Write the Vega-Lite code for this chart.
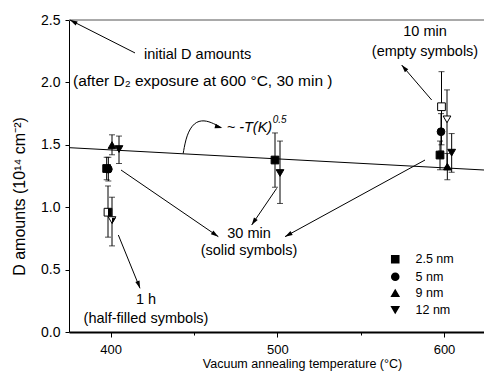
{
  "$schema": "https://vega.github.io/schema/vega-lite/v6.json",
  "width": 415,
  "height": 312,
  "autosize": {"type": "none"},
  "padding": {"left": 69, "top": 20, "right": 0, "bottom": 47},
  "background": "white",
  "config": {
    "view": {"stroke": null},
    "font": "Liberation Sans",
    "axis": {"domainColor": "black", "tickColor": "black", "labelColor": "black", "titleColor": "black", "grid": false, "labelFont": "Liberation Sans", "titleFont": "Liberation Sans", "titleFontWeight": "normal"}
  },
  "datasets": {
    "pts": [
      {"T": 397.6, "D": 1.31, "lo": 1.22, "hi": 1.4, "film": "2.5 nm", "time": "30 min"},
      {"T": 398.6, "D": 1.305, "lo": 1.21, "hi": 1.4, "film": "5 nm", "time": "30 min"},
      {"T": 400.8, "D": 1.498, "lo": 1.42, "hi": 1.58, "film": "9 nm", "time": "30 min"},
      {"T": 405, "D": 1.466, "lo": 1.35, "hi": 1.57, "film": "12 nm", "time": "30 min"},
      {"T": 398.4, "D": 0.96, "lo": 0.76, "hi": 1.17, "film": "2.5 nm", "time": "1 h"},
      {"T": 400.8, "D": 0.897, "lo": 0.69, "hi": 1.08, "film": "12 nm", "time": "1 h"},
      {"T": 498.6, "D": 1.378, "lo": 1.16, "hi": 1.595, "film": "2.5 nm", "time": "30 min"},
      {"T": 501.6, "D": 1.274, "lo": 1.03, "hi": 1.53, "film": "12 nm", "time": "30 min"},
      {"T": 598.5, "D": 1.805, "lo": 1.5, "hi": 2.086, "film": "2.5 nm", "time": "10 min"},
      {"T": 601.8, "D": 1.704, "lo": 1.32, "hi": 1.94, "film": "12 nm", "time": "10 min"},
      {"T": 598.2, "D": 1.605, "lo": 1.45, "hi": 1.75, "film": "5 nm", "time": "30 min"},
      {"T": 597.6, "D": 1.418, "lo": 1.3, "hi": 1.53, "film": "2.5 nm", "time": "30 min"},
      {"T": 602, "D": 1.325, "lo": 1.22, "hi": 1.43, "film": "9 nm", "time": "30 min"},
      {"T": 604.6, "D": 1.437, "lo": 1.28, "hi": 1.59, "film": "12 nm", "time": "30 min"}
    ],
    "trend": [
      {"T": 375, "D": 1.477},
      {"T": 624, "D": 1.298}
    ],
    "arrows": [
      {"id": "a1", "T1": 414.6, "D1": 2.236, "T2": 375.6, "D2": 2.5},
      {"id": "a2", "T1": 592.6, "D1": 1.859, "T2": 574.6, "D2": 2.139},
      {"id": "a3", "T1": 406.2, "D1": 1.298, "T2": 464.6, "D2": 0.764},
      {"id": "a4", "T1": 499.6, "D1": 1.151, "T2": 484.6, "D2": 0.857},
      {"id": "a5", "T1": 588.6, "D1": 1.378, "T2": 504.6, "D2": 0.764},
      {"id": "a6", "T1": 404.6, "D1": 0.777, "T2": 417.6, "D2": 0.35}
    ],
    "curve": [
      {"T": 443.5, "D": 1.43},
      {"T": 445.5, "D": 1.58},
      {"T": 450, "D": 1.68},
      {"T": 456, "D": 1.7},
      {"T": 462, "D": 1.67},
      {"T": 466, "D": 1.64}
    ],
    "labels": [
      {"T": 420, "D": 2.22, "text": "initial D amounts", "al": "left"},
      {"T": 588.6, "D": 2.4, "text": "10 min", "al": "center"},
      {"T": 588.6, "D": 2.244, "text": "(empty symbols)", "al": "center"},
      {"T": 483, "D": 0.785, "text": "30 min", "al": "center"},
      {"T": 483, "D": 0.649, "text": "(solid symbols)", "al": "center"},
      {"T": 421.2, "D": 0.255, "text": "1 h", "al": "center"},
      {"T": 421.2, "D": 0.105, "text": "(half-filled symbols)", "al": "center"}
    ]
  },
  "layer": [
    {
      "data": {"values": [{}]},
      "mark": {"type": "rule", "color": "#555", "strokeWidth": 1},
      "encoding": {"y": {"datum": 2.5, "type": "quantitative", "scale": {"domain": [0, 2.5], "nice": false}}}
    },
    {
      "data": {"name": "trend"},
      "mark": {"type": "line", "color": "black", "strokeWidth": 1},
      "encoding": {
        "x": {"field": "T", "type": "quantitative", "scale": {"domain": [375, 624], "nice": false, "zero": false},
          "axis": {"values": [400, 450, 500, 550, 600], "labelExpr": "datum.value % 100 === 0 ? datum.label : ''", "domainWidth": 2, "tickSize": {"condition": {"test": "datum.value % 100 === 0", "value": 5}, "value": 3}, "labelFontSize": 13, "labelPadding": 6, "title": "Vacuum annealing temperature (°C)", "titleFontSize": 12.5, "titleX": 233, "titleY": 35, "titleBaseline": "alphabetic"}},
        "y": {"field": "D", "type": "quantitative", "scale": {"domain": [0, 2.5], "nice": false},
          "axis": {"values": [0, 0.25, 0.5, 0.75, 1, 1.25, 1.5, 1.75, 2, 2.25, 2.5], "labelExpr": "(datum.value * 2) % 1 === 0 ? format(datum.value, '.1f') : ''", "tickSize": {"condition": {"test": "(datum.value * 2) % 1 === 0", "value": 4}, "value": 3}, "labelFontSize": 14, "labelPadding": 5, "title": "D amounts (10¹⁴ cm⁻²)", "titleFontSize": 16, "titleX": -50, "titleY": 176, "titleAlign": "center", "titleBaseline": "middle"}}
      }
    },
    {
      "data": {"name": "pts"},
      "mark": {"type": "errorbar", "ticks": {"size": 6, "color": "black", "strokeWidth": 1}, "rule": {"color": "black", "strokeWidth": 1}},
      "encoding": {
        "x": {"field": "T", "type": "quantitative"},
        "y": {"field": "lo", "type": "quantitative", "title": "D amounts (10¹⁴ cm⁻²)"},
        "y2": {"field": "hi"}
      }
    },
    {
      "data": {"name": "pts"},
      "mark": {"type": "point", "filled": false, "stroke": "black", "strokeWidth": 1, "opacity": 1, "size": 60},
      "encoding": {
        "x": {"field": "T", "type": "quantitative"},
        "y": {"field": "D", "type": "quantitative"},
        "shape": {"field": "film", "type": "nominal", "scale": {"domain": ["2.5 nm", "5 nm", "9 nm", "12 nm"], "range": ["square", "circle", "triangle-up", "triangle-down"]},
          "legend": {"title": null, "orient": "none", "legendX": 320, "legendY": 233, "padding": 0, "symbolFillColor": "black", "symbolStrokeColor": "black", "symbolSize": 50, "labelFontSize": 12.5, "labelFont": "Liberation Sans", "labelColor": "black", "labelOffset": 14, "rowPadding": 3.5}},
        "fill": {"field": "time", "type": "nominal", "scale": {"domain": ["10 min", "30 min", "1 h"], "range": ["white", "black", "white"]}, "legend": null}
      }
    },
    {
      "data": {"name": "pts"},
      "transform": [{"filter": "datum.time === '1 h' && datum.film === '2.5 nm'"}],
      "mark": {"type": "point", "filled": true, "color": "black", "opacity": 1, "size": 60, "shape": "M0,-1H1V1H0Z"},
      "encoding": {
        "x": {"field": "T", "type": "quantitative"},
        "y": {"field": "D", "type": "quantitative"}
      }
    },
    {
      "data": {"name": "pts"},
      "transform": [{"filter": "datum.time === '1 h' && datum.film === '12 nm'"}],
      "mark": {"type": "point", "filled": true, "color": "black", "opacity": 1, "size": 60, "shape": "M0,-0.6H1L0,1.1Z"},
      "encoding": {
        "x": {"field": "T", "type": "quantitative"},
        "y": {"field": "D", "type": "quantitative"}
      }
    },
    {
      "data": {"name": "arrows"},
      "mark": {"type": "rule", "color": "black", "strokeWidth": 1},
      "encoding": {
        "x": {"field": "T1", "type": "quantitative"},
        "y": {"field": "D1", "type": "quantitative"},
        "x2": {"field": "T2"},
        "y2": {"field": "D2"}
      }
    },
    {
      "data": {"name": "curve"},
      "mark": {"type": "line", "color": "black", "strokeWidth": 1, "interpolate": "basis"},
      "encoding": {
        "x": {"field": "T", "type": "quantitative"},
        "y": {"field": "D", "type": "quantitative"}
      }
    },
    {
      "data": {"name": "arrows"},
      "transform": [{"filter": "datum.id === 'a1'"}],
      "mark": {"type": "point", "filled": true, "color": "black", "opacity": 1, "size": 225, "shape": "M0,0L-0.3,1L0.3,1Z", "angle": 297},
      "encoding": {"x": {"field": "T2", "type": "quantitative"}, "y": {"field": "D2", "type": "quantitative"}}
    },
    {
      "data": {"name": "arrows"},
      "transform": [{"filter": "datum.id === 'a2'"}],
      "mark": {"type": "point", "filled": true, "color": "black", "opacity": 1, "size": 225, "shape": "M0,0L-0.3,1L0.3,1Z", "angle": 319},
      "encoding": {"x": {"field": "T2", "type": "quantitative"}, "y": {"field": "D2", "type": "quantitative"}}
    },
    {
      "data": {"name": "arrows"},
      "transform": [{"filter": "datum.id === 'a3'"}],
      "mark": {"type": "point", "filled": true, "color": "black", "opacity": 1, "size": 225, "shape": "M0,0L-0.3,1L0.3,1Z", "angle": 124},
      "encoding": {"x": {"field": "T2", "type": "quantitative"}, "y": {"field": "D2", "type": "quantitative"}}
    },
    {
      "data": {"name": "arrows"},
      "transform": [{"filter": "datum.id === 'a4'"}],
      "mark": {"type": "point", "filled": true, "color": "black", "opacity": 1, "size": 225, "shape": "M0,0L-0.3,1L0.3,1Z", "angle": 214},
      "encoding": {"x": {"field": "T2", "type": "quantitative"}, "y": {"field": "D2", "type": "quantitative"}}
    },
    {
      "data": {"name": "arrows"},
      "transform": [{"filter": "datum.id === 'a5'"}],
      "mark": {"type": "point", "filled": true, "color": "black", "opacity": 1, "size": 225, "shape": "M0,0L-0.3,1L0.3,1Z", "angle": 241},
      "encoding": {"x": {"field": "T2", "type": "quantitative"}, "y": {"field": "D2", "type": "quantitative"}}
    },
    {
      "data": {"name": "arrows"},
      "transform": [{"filter": "datum.id === 'a6'"}],
      "mark": {"type": "point", "filled": true, "color": "black", "opacity": 1, "size": 225, "shape": "M0,0L-0.3,1L0.3,1Z", "angle": 160},
      "encoding": {"x": {"field": "T2", "type": "quantitative"}, "y": {"field": "D2", "type": "quantitative"}}
    },
    {
      "data": {"values": [{"T": 467, "D": 1.635}]},
      "mark": {"type": "point", "filled": true, "color": "black", "opacity": 1, "size": 225, "shape": "M0,0L-0.3,1L0.3,1Z", "angle": 105},
      "encoding": {"x": {"field": "T", "type": "quantitative"}, "y": {"field": "D", "type": "quantitative"}}
    },
    {
      "data": {"name": "labels"},
      "transform": [{"filter": "datum.al === 'left'"}],
      "mark": {"type": "text", "font": "Liberation Sans", "fontSize": 14.5, "color": "black", "baseline": "middle", "align": "left"},
      "encoding": {
        "x": {"field": "T", "type": "quantitative"},
        "y": {"field": "D", "type": "quantitative"},
        "text": {"field": "text"}
      }
    },
    {
      "data": {"values": [{"T": 377.4, "D": 2.015, "text": "(after D₂ exposure at 600 °C, 30 min )"}]},
      "mark": {"type": "text", "font": "Liberation Sans", "fontSize": 15.5, "color": "black", "baseline": "middle", "align": "left"},
      "encoding": {
        "x": {"field": "T", "type": "quantitative"},
        "y": {"field": "D", "type": "quantitative"},
        "text": {"field": "text"}
      }
    },
    {
      "data": {"name": "labels"},
      "transform": [{"filter": "datum.al === 'center'"}],
      "mark": {"type": "text", "font": "Liberation Sans", "fontSize": 14.5, "color": "black", "baseline": "middle", "align": "center"},
      "encoding": {
        "x": {"field": "T", "type": "quantitative"},
        "y": {"field": "D", "type": "quantitative"},
        "text": {"field": "text"}
      }
    },
    {
      "data": {"values": [{"T": 469.6, "D": 1.635, "text": "~ -T(K)"}]},
      "mark": {"type": "text", "font": "Liberation Sans", "fontSize": 14.5, "fontStyle": "italic", "color": "black", "baseline": "middle", "align": "left"},
      "encoding": {
        "x": {"field": "T", "type": "quantitative"},
        "y": {"field": "D", "type": "quantitative"},
        "text": {"field": "text"}
      }
    },
    {
      "data": {"values": [{"T": 497.2, "D": 1.7, "text": "0.5"}]},
      "mark": {"type": "text", "font": "Liberation Sans", "fontSize": 10, "fontStyle": "italic", "color": "black", "baseline": "middle", "align": "left"},
      "encoding": {
        "x": {"field": "T", "type": "quantitative"},
        "y": {"field": "D", "type": "quantitative"},
        "text": {"field": "text"}
      }
    }
  ]
}
